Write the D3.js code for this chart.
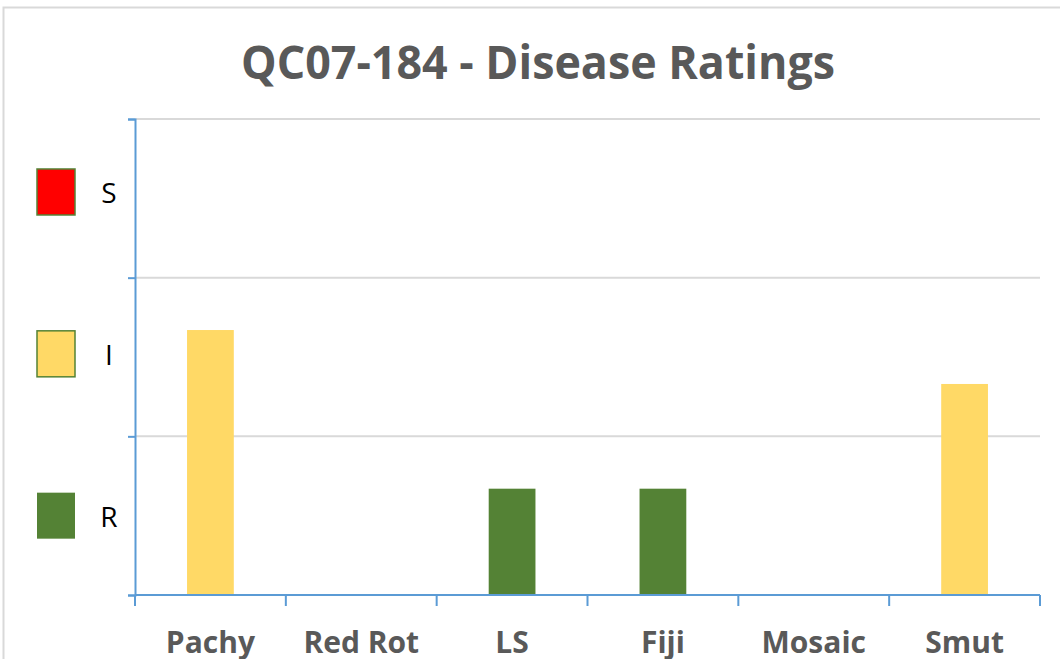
<!DOCTYPE html>
<html lang="en">
<head>
    <meta charset="UTF-8">
    <title>QC07-184 - Disease Ratings</title>
    <script src="https://d3js.org/d3.v7.min.js"></script>
    <style>
        body { margin: 0; background: #ffffff; }
        svg { display: block; }
    </style>
</head>
<body>
    <div id="chart"></div>

    <script>
    // chart data
    const categories = ["Pachy", "Red Rot", "LS", "Fiji", "Mosaic", "Smut"];
    const ratings = [1.67, 0, 0.67, 0.67, 0, 1.33];
    const ratingClass = ["I", null, "R", "R", null, "I"];
    const legendLabels = ["S", "I", "R"];
    const legendColors = ["#FF0000", "#FFD966", "#548235"];
    const yTicks = [0, 1, 2, 3];

    const width = 1060;
    const height = 659;
    const margin = { top: 119, right: 20, bottom: 64, left: 135 };

    const svg = d3.select("#chart")
        .append("svg")
        .attr("width", width)
        .attr("height", height);

    // outer chart frame
    svg.append("rect")
        .attr("x", 3.5)
        .attr("y", 7.5)
        .attr("width", 1200)
        .attr("height", 800)
        .attr("fill", "none")
        .attr("stroke", "#D9D9D9")
        .attr("stroke-width", 2);

    const x = d3.scaleBand()
        .domain(categories)
        .range([margin.left, width - margin.right])
        .padding(0);

    const y = d3.scaleLinear()
        .domain([0, 3])
        .range([height - margin.bottom, margin.top]);

    const colorOf = d3.scaleOrdinal()
        .domain(legendLabels)
        .range(legendColors);

    // title
    svg.append("text")
        .attr("x", 538)
        .attr("y", 79)
        .attr("text-anchor", "middle")
        .attr("font-family", "'Open Sans', sans-serif")
        .attr("font-weight", "bold")
        .attr("font-size", 46)
        .attr("fill", "#595959")
        .attr("textLength", 594)
        .attr("lengthAdjust", "spacingAndGlyphs")
        .text("QC07-184 - Disease Ratings");

    // gridlines
    svg.append("g")
        .selectAll("line")
        .data(yTicks.filter(d => d > 0))
        .join("line")
        .attr("x1", margin.left)
        .attr("x2", width - margin.right)
        .attr("y1", d => y(d))
        .attr("y2", d => y(d))
        .attr("stroke", "#D9D9D9")
        .attr("stroke-width", 2);

    // bars
    const barW = x.bandwidth() * 0.31;
    svg.append("g")
        .selectAll("rect")
        .data(categories.map((c, i) => ({ cat: c, value: ratings[i], cls: ratingClass[i] })))
        .join("rect")
        .attr("x", d => x(d.cat) + (x.bandwidth() - barW) / 2)
        .attr("y", d => y(d.value))
        .attr("width", barW)
        .attr("height", d => y(0) - y(d.value))
        .attr("fill", d => d.cls ? colorOf(d.cls) : "none");

    // y axis (no labels, just ticks)
    const yAxis = svg.append("g")
        .attr("transform", `translate(${margin.left},0)`)
        .call(d3.axisLeft(y).tickValues(yTicks).tickSize(7).tickFormat(""));
    yAxis.selectAll("path, line").attr("stroke", "#5B9BD5").attr("stroke-width", 2);

    // x axis with ticks at category edges
    const edges = categories.map(c => x(c)).concat([x.range()[1]]);
    const xAxis = svg.append("g")
        .attr("transform", `translate(0,${y(0)})`);
    xAxis.append("line")
        .attr("x1", margin.left)
        .attr("x2", width - margin.right)
        .attr("stroke", "#5B9BD5")
        .attr("stroke-width", 2);
    xAxis.selectAll("line.tick")
        .data(edges)
        .join("line")
        .attr("class", "tick")
        .attr("x1", d => d)
        .attr("x2", d => d)
        .attr("y1", 0)
        .attr("y2", 11)
        .attr("stroke", "#5B9BD5")
        .attr("stroke-width", 2);
    xAxis.selectAll("text")
        .data(categories)
        .join("text")
        .attr("x", d => x(d) + x.bandwidth() / 2)
        .attr("y", 58)
        .attr("text-anchor", "middle")
        .attr("font-family", "'Open Sans', sans-serif")
        .attr("font-weight", "bold")
        .attr("font-size", 30)
        .attr("fill", "#595959")
        .text(d => d);

    // legend
    const legendY = [y(2.54), y(1.52), y(0.5)];
    const legend = svg.append("g");
    legend.selectAll("rect")
        .data(legendLabels)
        .join("rect")
        .attr("x", 37)
        .attr("y", (d, i) => legendY[i] - 23)
        .attr("width", 38)
        .attr("height", 46)
        .attr("fill", d => colorOf(d))
        .attr("stroke", (d, i) => i < 2 ? "#548235" : "none")
        .attr("stroke-width", 1.5);
    legend.selectAll("text")
        .data(legendLabels)
        .join("text")
        .attr("x", 109)
        .attr("y", (d, i) => legendY[i] + 11)
        .attr("text-anchor", "middle")
        .attr("font-family", "'Open Sans', sans-serif")
        .attr("font-size", 28)
        .attr("fill", "#000000")
        .text(d => d);
    </script>
</body>
</html>
